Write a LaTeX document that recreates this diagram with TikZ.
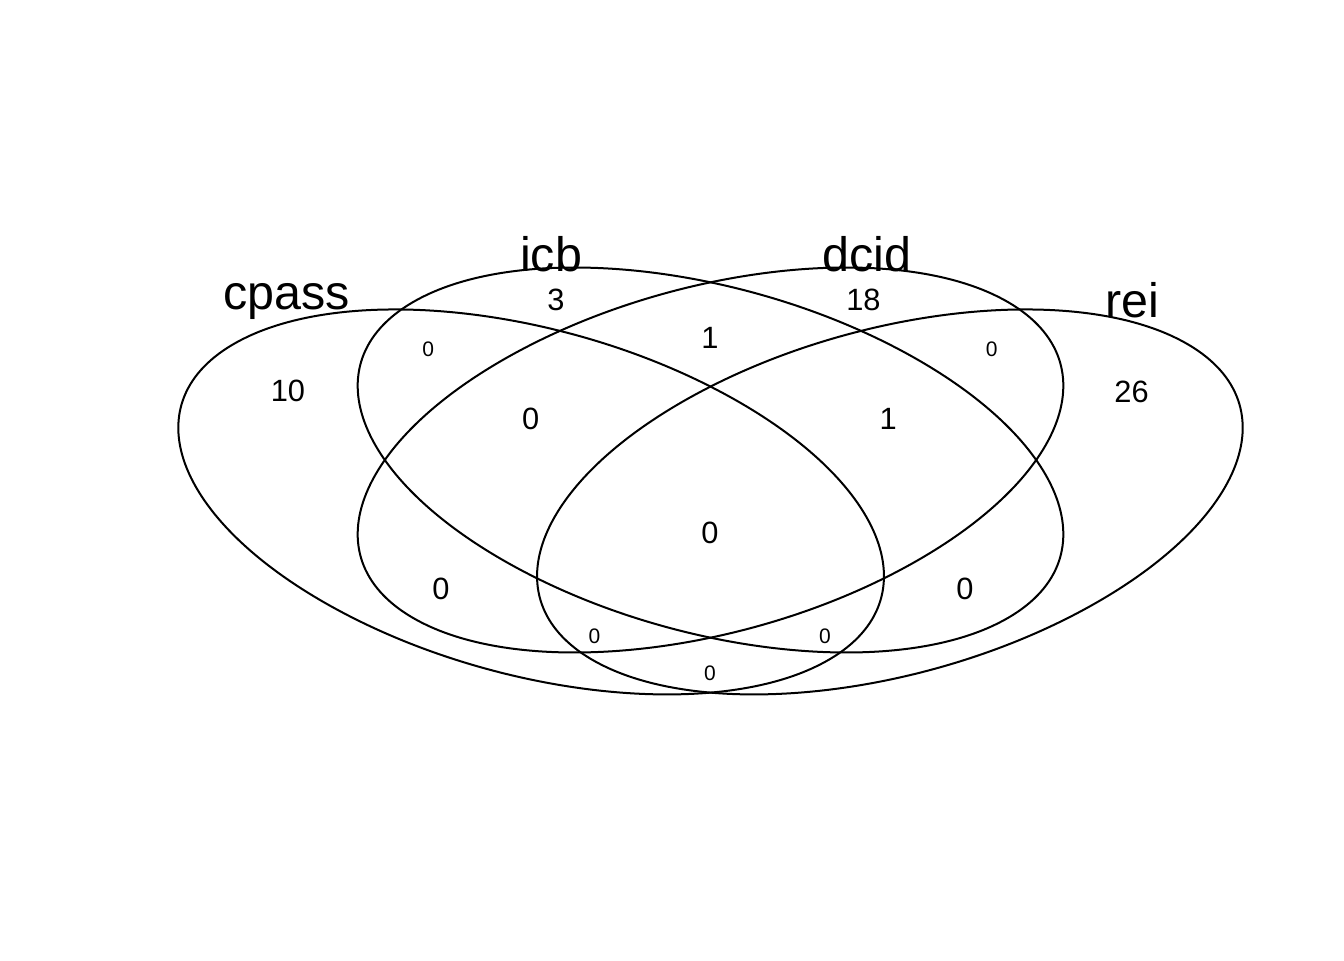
\documentclass[tikz,border=0pt]{standalone}
\usepackage{fontspec}
\setmainfont{Liberation Sans}

\begin{document}
\begin{tikzpicture}[x=1pt, y=1pt, xscale=1.28125, yscale=0.699,
    vennline/.style={line width=1pt},
    setname/.style={anchor=base, inner sep=0pt, font=\fontsize{24.2}{24.2}\selectfont},
    count/.style={anchor=base, inner sep=0pt, font=\fontsize{15.4}{15.4}\selectfont},
    smallcount/.style={anchor=base, inner sep=0pt, font=\fontsize{10.5}{10.5}\selectfont}]

    \useasboundingbox[fill=white] (-77.27,-157.65) rectangle (447.22,529.04);

    % the four sets
    \draw [vennline, shift={(130,170)}, rotate=-45] (0,0) ellipse (162 and 108);
    \draw [vennline, shift={(200,200)}, rotate=-45] (0,0) ellipse (162 and 108);
    \draw [vennline, shift={(200,200)}, rotate=45] (0,0) ellipse (162 and 108);
    \draw [vennline, shift={(270,170)}, rotate=45] (0,0) ellipse (162 and 108);

    % set names
    \node [setname] (cpass) at (34.7,308.0) {cpass};
    \node [setname] (icb) at (137.8,334.5) {icb};
    \node [setname] (dcid) at (261.1,334.5) {dcid};
    \node [setname] (rei) at (364.5,301.6) {rei};

    % counts
    \node [count] (n1000) at (35.1,241.5) {10};
    \node [count] (n0100) at (139.7,306.6) {3};
    \node [count] (n0010) at (259.7,306.6) {18};
    \node [count] (n0001) at (364.3,240.8) {26};
    \node [smallcount] (n1100) at (89.8,273.7) {0};
    \node [count] (n0110) at (199.8,280.1) {1};
    \node [smallcount] (n0011) at (309.7,273.7) {0};
    \node [count] (n1110) at (129.8,221.5) {0};
    \node [count] (n0111) at (269.3,221.5) {1};
    \node [count] (n1111) at (199.8,140.6) {0};
    \node [count] (n1010) at (94.8,99.9) {0};
    \node [count] (n0101) at (299.3,99.9) {0};
    \node [smallcount] (n1011) at (154.7,68.4) {0};
    \node [smallcount] (n1101) at (244.7,68.4) {0};
    \node [smallcount] (n1001) at (199.8,42.6) {0};

\end{tikzpicture}
\end{document}
